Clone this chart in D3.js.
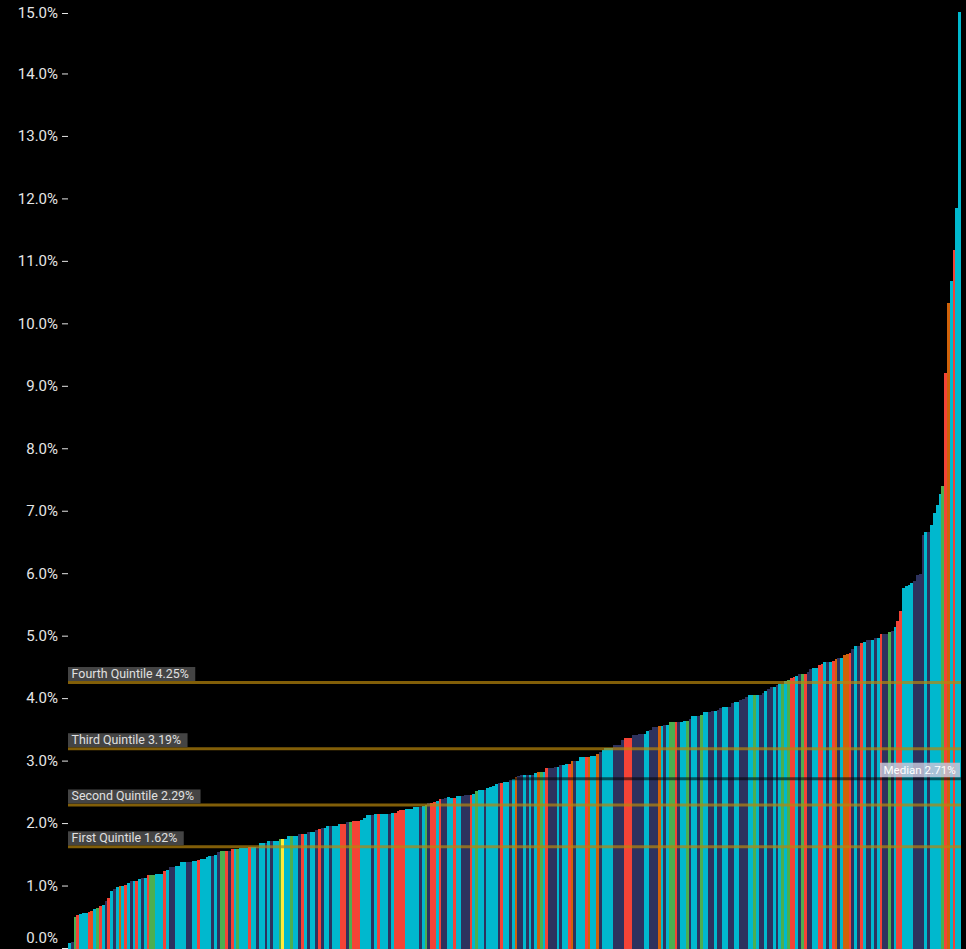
<!DOCTYPE html>
<html><head><meta charset="utf-8">
<script src="https://cdn.jsdelivr.net/npm/d3@7"></script>
<style>html,body{margin:0;padding:0;background:#000;}svg{display:block;}</style>
</head><body><svg id="chart" width="966" height="949"></svg>
<script>
// ---- data (sorted ascending) ----
const values = [
0.08,0.10,0.50,0.53,0.55,0.56,0.56,0.58,0.59,0.63,0.64,0.68,0.69,0.76,0.80,0.92,0.95,0.98,1.00,1.00,
1.01,1.04,1.07,1.07,1.08,1.10,1.12,1.12,1.17,1.17,1.17,1.19,1.19,1.19,1.24,1.25,1.29,1.29,1.32,1.32,
1.37,1.37,1.37,1.37,1.39,1.39,1.41,
1.43,1.43,1.45,1.48,1.48,1.49,1.53,1.55,1.55,1.56,1.56,1.59,1.59,1.59,1.60,1.60,1.60,1.62,1.62,1.62,
1.62,1.68,1.68,1.68,1.72,1.72,1.72,1.72,1.75,1.75,1.75,1.80,1.80,1.80,1.80,1.83,1.83,1.83,1.85,1.86,
1.86,1.89,1.91,1.92,1.92,1.96,1.96,1.96,1.96,1.99,1.99,1.99,2.02,2.02,2.04,2.04,2.04,2.05,2.08,2.13,
2.13,2.13,2.15,2.15,2.15,2.15,2.15,2.15,2.16,2.16,2.20,2.21,2.21,2.23,2.23,2.23,2.26,2.26,2.26,2.28,
2.29,2.32,2.32,2.34,2.36,2.39,2.39,2.40,2.41,
2.40,2.40,2.43,2.43,2.43,2.45,2.45,2.45,2.47,2.51,2.53,2.53,2.53,2.56,2.58,2.59,2.63,2.64,2.64,2.66,
2.66,2.69,2.71,2.74,2.76,2.77,2.77,2.77,2.77,2.77,2.80,2.82,2.82,2.82,2.88,2.88,2.88,2.90,2.90,2.93,
2.93,2.95,2.95,3.00,3.00,3.00,3.05,3.05,3.05,3.06,3.08,3.08,3.11,3.13,3.17,3.20,3.20,3.20,3.25,3.25,
3.25,3.33,3.36,3.36,3.36,3.41,3.41,3.43,3.43,3.43,3.48,3.49,3.54,3.54,3.56,3.56,3.57,3.57,3.61,3.61,
3.61,3.62,3.62,3.63,3.63,3.67,3.72,3.72,3.72,
3.73,3.78,3.78,3.78,3.80,3.80,3.81,3.84,3.86,3.86,3.86,3.92,3.94,3.94,3.97,3.99,4.02,4.05,4.05,4.05,
4.05,4.05,4.08,4.11,4.15,4.18,4.18,4.21,4.23,4.23,4.27,4.29,4.32,4.34,4.36,4.39,4.39,4.39,4.42,4.47,
4.48,4.48,4.53,4.55,4.58,4.58,4.58,4.60,4.63,4.65,4.65,4.69,4.71,4.73,4.79,4.84,4.84,4.88,4.90,4.93,
4.93,4.93,4.96,4.96,
5.03,5.03,5.03,5.06,5.07,5.14,5.24,5.40,5.77,5.80,5.81,5.84,5.88,5.97,5.99,6.61,6.66,6.66,6.77,6.97,
7.09,7.27,7.40,9.21,10.32,10.68,11.17,11.84,14.98
];
// group key of each bar, in the same order as values
const groupsA = "cngrc ccrdc grcnr cncoc rcncr cncrg gcccr cnncc ccnnc cr";
const groupsB = "ccccn cnggr nrcgc ccrcc nccnc nccgy ccgcc nrcnc cnrnc cnccc rrngr rrccc cncrc ccncr rrrcc cccnc gnrrc rnnc";
const groupsC = "crccn nnrcg ccncc ccnrc cncon ncncn cogcr nnncn ccron cccro cconc cccnn nnrrr nnnnc cnnno cncgg rnccg nccn";
const groupsD = "gccnn cnncc nnccn nnccg cnncn ncncg cgrrc ngrnn ccrrc ncron coorn cnrcn ncnc";
const groupsE = "rnngn crrcc ccnnn ncncc ccgro crcc";
const groups = (groupsA + groupsB + groupsC + groupsD + groupsE).replace(/\s/g,"").split("");
const groupColors = {c:"#00B8CE", n:"#2D325E", r:"#F44336", o:"#D0620A", d:"#E8501E", g:"#4CAF50", y:"#FFEB3B"};
const tickValues = [0,1,2,3,4,5,6,7,8,9,10,11,12,13,14,15];
const quintileNames = ["First Quintile","Second Quintile","Third Quintile","Fourth Quintile"];
const quintileValues = [1.62,2.29,3.19,4.25];
const medianName = "Median";
const medianValue = 2.71;

// ---- layout ----
const W = 966, H = 949;
const margin = {top:11, right:5, bottom:1, left:68};
const svg = d3.select("#chart");
svg.append("rect").attr("width",W).attr("height",H).attr("fill","#000");

const x = d3.scaleBand().domain(d3.range(values.length))
  .range([margin.left, W - margin.right]).padding(0);
const y = d3.scaleLinear().domain([0,15]).range([H - margin.bottom, margin.top]);

svg.append("g").selectAll("rect").data(values).join("rect")
  .attr("x",(d,i)=>x(i)).attr("y",d=>y(d))
  .attr("width",x.bandwidth()).attr("height",d=>y(0)-y(d)+1)
  .attr("fill",(d,i)=>groupColors[groups[i]] || groupColors.c)
  .attr("shape-rendering","crispEdges");

// y axis
const ax = svg.append("g").attr("transform",`translate(${margin.left},0)`)
  .call(d3.axisLeft(y).tickValues(tickValues).tickFormat(d=>d.toFixed(1)+"%").tickSize(6).tickPadding(4));
ax.select(".domain").remove();
ax.selectAll(".tick line").attr("stroke","#e6e6e6");
ax.selectAll(".tick text").attr("fill","#e6e6e6")
  .style("font-family","Roboto, 'Noto Sans', sans-serif").style("font-size","15px");
ax.selectAll(".tick").filter(d=>d===15).attr("transform",`translate(0,${y(15)+2.5})`);
ax.selectAll(".tick text").filter(d=>d===0).attr("dy","-0.35em");

// reference lines
const x0 = margin.left, x1 = W - margin.right;
quintileValues.forEach(v=>{
  svg.append("line").attr("x1",x0).attr("x2",x1).attr("y1",y(v)).attr("y2",y(v))
    .attr("stroke","#B8860B").attr("stroke-opacity",0.7).attr("stroke-width",3);
});
svg.append("line").attr("x1",x0).attr("x2",x1).attr("y1",y(medianValue)).attr("y2",y(medianValue))
  .attr("stroke","#000").attr("stroke-opacity",0.55).attr("stroke-width",3);

const font = "Roboto, 'Noto Sans', sans-serif";
quintileValues.forEach((v,i)=>{
  const g = svg.append("g");
  const box = g.append("rect");
  const t = g.append("text").attr("x",x0+3.6).attr("y",y(v)-4.5)
    .attr("fill","#e0e0e0").style("font-family",font).style("font-size","12.4px")
    .text(`${quintileNames[i]} ${v.toFixed(2)}%`);
  const len = t.node().getComputedTextLength();
  box.attr("x",x0).attr("y",y(v)-15.5).attr("width",len+10).attr("height",14)
    .attr("fill","#444");
});
{
  const v = medianValue;
  const g = svg.append("g");
  const box = g.append("rect");
  const t = g.append("text").attr("x",955.7).attr("y",y(v)-4.5).attr("text-anchor","end")
    .attr("fill","#fff").style("font-family",font).style("font-size","11.6px")
    .text(`${medianName} ${v.toFixed(2)}%`);
  const len = t.node().getComputedTextLength();
  box.attr("x",955.7-len-3.4).attr("y",y(v)-16).attr("width",len+7.7).attr("height",14.5)
    .attr("fill","#c4c4d8").attr("fill-opacity",0.85);
}
</script></body></html>
